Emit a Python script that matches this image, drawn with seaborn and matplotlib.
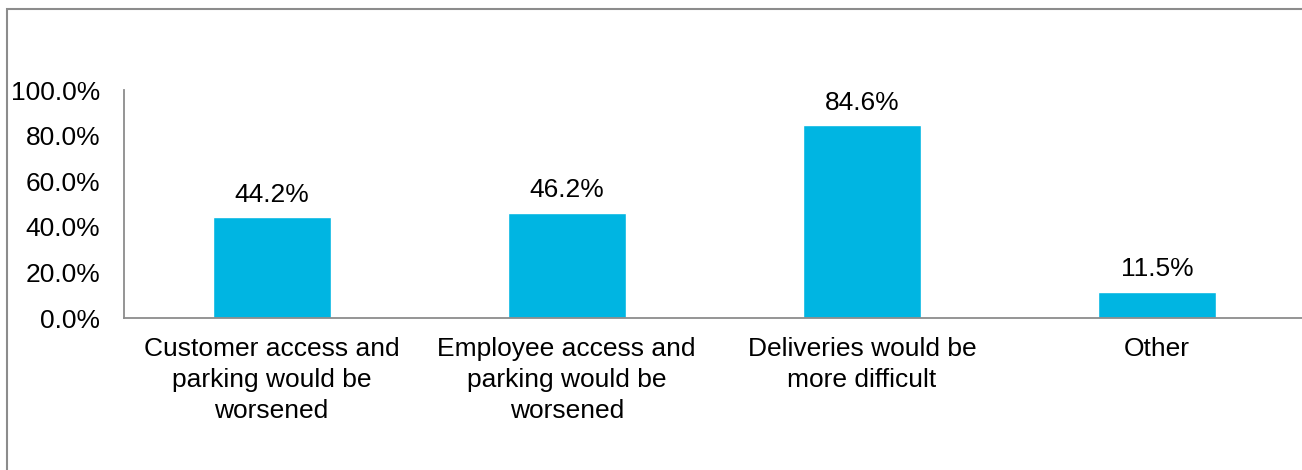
import matplotlib
matplotlib.use("Agg")
import matplotlib.pyplot as plt
import seaborn as sns
import pandas as pd
from matplotlib.patches import Rectangle

categories = [
    "Customer access and\nparking would be\nworsened",
    "Employee access and\nparking would be\nworsened",
    "Deliveries would be\nmore difficult",
    "Other",
]
values = [44.2, 46.2, 84.6, 11.5]
yticks = [0, 20, 40, 60, 80, 100]
ytick_labels = ["0.0%", "20.0%", "40.0%", "60.0%", "80.0%", "100.0%"]

sns.set_theme(style="white")
plt.rcParams["font.family"] = ["Liberation Sans", "DejaVu Sans"]

W, H = 1302, 470
FS = 19
fig = plt.figure(figsize=(W / 100, H / 100), dpi=100)
ax = fig.add_axes([124 / W, 1 - 318 / H, 1 - 124 / W + 0.002, (318 - 90) / H])

df = pd.DataFrame({"category": categories, "value": values})
sns.barplot(data=df, x="category", y="value", color="#00B5E2", width=0.4,
            saturation=1, ax=ax)

ax.set_ylim(0, 100)
ax.set_xlim(-0.5, 3.5)
ax.set_yticks(yticks)
ax.set_yticklabels(ytick_labels)
ax.set_xlabel("")
ax.set_ylabel("")
ax.tick_params(axis="y", length=0, pad=17, labelsize=FS, labelcolor="#000000")
ax.tick_params(axis="x", length=0, pad=14, labelsize=FS, labelcolor="#000000")
for lbl in ax.get_xticklabels():
    lbl.set_linespacing(1.36)

for side in ["top", "right"]:
    ax.spines[side].set_visible(False)
for side in ["left", "bottom"]:
    ax.spines[side].set_color("#8C8C8C")
    ax.spines[side].set_linewidth(1.3)

for i, v in enumerate(values):
    ax.annotate(f"{v:.1f}%", (i, v), xytext=(0, 7.5), textcoords="offset points",
                ha="center", va="bottom", fontsize=FS, color="#000000")

# outer frame of the chart area
fig.patches.append(Rectangle((7 / W, -0.05), 1.05, 1 - 9 / H + 0.05,
                             transform=fig.transFigure, fill=False,
                             edgecolor="#8C8C8C", linewidth=1.5))

fig.savefig("out.png", dpi=100)
